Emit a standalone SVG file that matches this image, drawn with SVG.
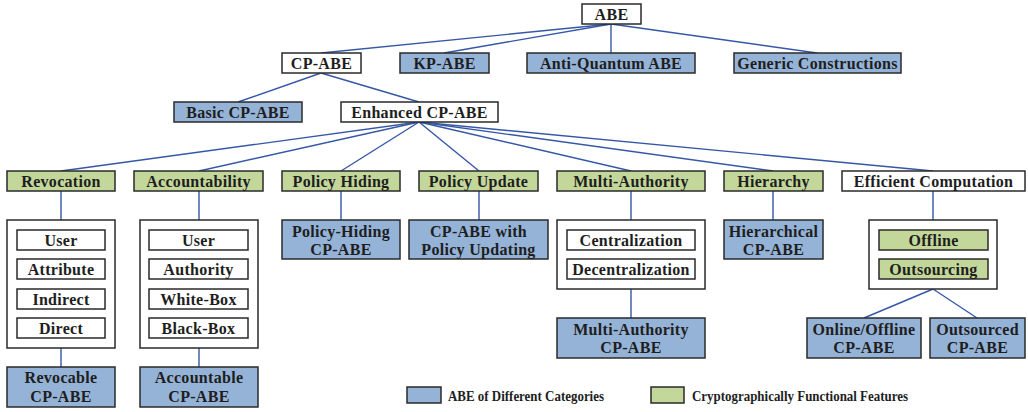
<svg xmlns="http://www.w3.org/2000/svg" width="1028" height="412" viewBox="0 0 1028 412">
<style>
rect{stroke:#2a2a2a;stroke-width:1.5}
.w{fill:#ffffff}
.b{fill:#95B3D7}
.g{fill:#C4D79B}
#connectors line{stroke:#3557A6;stroke-width:1.4}
</style>
<rect x="0" y="0" width="1028" height="412" style="fill:#ffffff;stroke:none"/>
<g id="connectors">
<line x1="611" y1="24" x2="321" y2="53"/>
<line x1="611" y1="24" x2="444" y2="53"/>
<line x1="611" y1="24" x2="611" y2="53"/>
<line x1="611" y1="24" x2="817" y2="53"/>
<line x1="321" y1="73" x2="238" y2="102"/>
<line x1="321" y1="73" x2="419" y2="102"/>
<line x1="419" y1="122" x2="61" y2="171"/>
<line x1="419" y1="122" x2="199" y2="171"/>
<line x1="419" y1="122" x2="341" y2="171"/>
<line x1="419" y1="122" x2="479" y2="171"/>
<line x1="419" y1="122" x2="631" y2="171"/>
<line x1="419" y1="122" x2="773" y2="171"/>
<line x1="419" y1="122" x2="933" y2="171"/>
<line x1="61" y1="191" x2="61" y2="220"/>
<line x1="61" y1="348" x2="61" y2="367"/>
<line x1="199" y1="191" x2="199" y2="220"/>
<line x1="199" y1="348" x2="199" y2="367"/>
<line x1="341" y1="191" x2="341" y2="220"/>
<line x1="479" y1="191" x2="479" y2="220"/>
<line x1="631" y1="191" x2="631" y2="220"/>
<line x1="631" y1="289" x2="631" y2="318"/>
<line x1="773" y1="191" x2="773" y2="220"/>
<line x1="933" y1="191" x2="933" y2="220"/>
<line x1="933" y1="289" x2="864" y2="318"/>
<line x1="933" y1="289" x2="977" y2="318"/>
</g>
<g font-family="Liberation Serif" font-weight="bold" font-size="16" fill="#1e1e1e" text-anchor="middle" letter-spacing="0.3">
<g id="abe"><rect class="w" x="582" y="4" width="59" height="20"/><text font-family="Liberation Serif" x="611.5" y="19.5">ABE</text></g>
<g id="cp-abe"><rect class="w" x="282" y="53" width="79" height="20"/><text font-family="Liberation Serif" x="321.5" y="68.5">CP-ABE</text></g>
<g id="kp-abe"><rect class="b" x="400" y="53" width="89" height="20"/><text font-family="Liberation Serif" x="444.5" y="68.5">KP-ABE</text></g>
<g id="anti-quantum"><rect class="b" x="527" y="53" width="168" height="20"/><text font-family="Liberation Serif" x="611" y="68.5">Anti-Quantum ABE</text></g>
<g id="generic"><rect class="b" x="734" y="53" width="167" height="20"/><text font-family="Liberation Serif" x="817.5" y="68.5">Generic Constructions</text></g>
<g id="basic"><rect class="b" x="174" y="102" width="128" height="20"/><text font-family="Liberation Serif" x="238" y="117.5">Basic CP-ABE</text></g>
<g id="enhanced"><rect class="w" x="341" y="102" width="157" height="20"/><text font-family="Liberation Serif" x="419.5" y="117.5">Enhanced CP-ABE</text></g>

<g id="revocation"><rect class="g" x="7" y="171" width="108" height="20"/><text font-family="Liberation Serif" x="61" y="186.5">Revocation</text></g>
<g id="revocation-types"><rect class="w" x="7" y="220" width="108" height="128"/>
<rect class="w" x="17" y="230" width="88" height="20"/><text font-family="Liberation Serif" x="61" y="245.5">User</text>
<rect class="w" x="17" y="259" width="88" height="20"/><text font-family="Liberation Serif" x="61" y="274.5">Attribute</text>
<rect class="w" x="17" y="289" width="88" height="20"/><text font-family="Liberation Serif" x="61" y="304.5">Indirect</text>
<rect class="w" x="17" y="318" width="88" height="20"/><text font-family="Liberation Serif" x="61" y="333.5">Direct</text></g>
<g id="revocable"><rect class="b" x="7" y="367" width="108" height="40"/><text font-family="Liberation Serif" x="61" y="383">Revocable</text><text font-family="Liberation Serif" x="61" y="402">CP-ABE</text></g>

<g id="accountability"><rect class="g" x="134" y="171" width="129" height="20"/><text font-family="Liberation Serif" x="198.5" y="186.5">Accountability</text></g>
<g id="accountability-types"><rect class="w" x="140" y="220" width="118" height="128"/>
<rect class="w" x="149" y="230" width="99" height="20"/><text font-family="Liberation Serif" x="198.5" y="245.5">User</text>
<rect class="w" x="149" y="259" width="99" height="20"/><text font-family="Liberation Serif" x="198.5" y="274.5">Authority</text>
<rect class="w" x="149" y="289" width="99" height="20"/><text font-family="Liberation Serif" x="198.5" y="304.5">White-Box</text>
<rect class="w" x="149" y="318" width="99" height="20"/><text font-family="Liberation Serif" x="198.5" y="333.5">Black-Box</text></g>
<g id="accountable"><rect class="b" x="140" y="367" width="118" height="40"/><text font-family="Liberation Serif" x="199" y="383">Accountable</text><text font-family="Liberation Serif" x="199" y="402">CP-ABE</text></g>

<g id="policy-hiding"><rect class="g" x="282" y="171" width="118" height="20"/><text font-family="Liberation Serif" x="341" y="186.5">Policy Hiding</text></g>
<g id="policy-hiding-cpabe"><rect class="b" x="282" y="220" width="118" height="39"/><text font-family="Liberation Serif" x="341" y="237">Policy-Hiding</text><text font-family="Liberation Serif" x="341" y="254.5">CP-ABE</text></g>

<g id="policy-update"><rect class="g" x="419" y="171" width="119" height="20"/><text font-family="Liberation Serif" x="478.5" y="186.5">Policy Update</text></g>
<g id="policy-updating-cpabe"><rect class="b" x="409" y="220" width="139" height="39"/><text font-family="Liberation Serif" x="478.5" y="237">CP-ABE with</text><text font-family="Liberation Serif" x="478.5" y="254.5">Policy Updating</text></g>

<g id="multi-authority"><rect class="g" x="557" y="171" width="148" height="20"/><text font-family="Liberation Serif" x="631" y="186.5">Multi-Authority</text></g>
<g id="multi-authority-types"><rect class="w" x="557" y="220" width="148" height="69"/>
<rect class="w" x="567" y="230" width="128" height="20"/><text font-family="Liberation Serif" x="631" y="245.5">Centralization</text>
<rect class="w" x="567" y="259" width="128" height="20"/><text font-family="Liberation Serif" x="631" y="274.5">Decentralization</text></g>
<g id="multi-authority-cpabe"><rect class="b" x="557" y="318" width="148" height="40"/><text font-family="Liberation Serif" x="631" y="334.5">Multi-Authority</text><text font-family="Liberation Serif" x="631" y="353">CP-ABE</text></g>

<g id="hierarchy"><rect class="g" x="724" y="171" width="99" height="20"/><text font-family="Liberation Serif" x="773.5" y="186.5">Hierarchy</text></g>
<g id="hierarchical-cpabe"><rect class="b" x="724" y="220" width="99" height="39"/><text font-family="Liberation Serif" x="773.5" y="237">Hierarchical</text><text font-family="Liberation Serif" x="773.5" y="254.5">CP-ABE</text></g>

<g id="efficient-computation"><rect class="w" x="842" y="171" width="183" height="20"/><text font-family="Liberation Serif" x="933.5" y="186.5">Efficient Computation</text></g>
<g id="efficient-types"><rect class="w" x="869" y="220" width="128" height="69"/>
<rect class="g" x="879" y="230" width="109" height="20"/><text font-family="Liberation Serif" x="933.5" y="245.5">Offline</text>
<rect class="g" x="879" y="259" width="109" height="20"/><text font-family="Liberation Serif" x="933.5" y="274.5">Outsourcing</text></g>
<g id="online-offline"><rect class="b" x="807" y="318" width="114" height="40"/><text font-family="Liberation Serif" x="864" y="334.5">Online/Offline</text><text font-family="Liberation Serif" x="864" y="353">CP-ABE</text></g>
<g id="outsourced"><rect class="b" x="930" y="318" width="95" height="40"/><text font-family="Liberation Serif" x="977.5" y="334.5">Outsourced</text><text font-family="Liberation Serif" x="977.5" y="353">CP-ABE</text></g>

<g id="legend">
<rect class="b" x="407" y="387" width="34" height="16"/>
<text font-family="Liberation Serif" font-size="15.5" letter-spacing="0" text-anchor="start" x="448" y="401" textLength="156" lengthAdjust="spacingAndGlyphs">ABE of Different Categories</text>
<rect class="g" x="651" y="387" width="33" height="16"/>
<text font-family="Liberation Serif" font-size="15.5" letter-spacing="0" text-anchor="start" x="692" y="401" textLength="216" lengthAdjust="spacingAndGlyphs">Cryptographically Functional Features</text>
</g>
</g>
</svg>
